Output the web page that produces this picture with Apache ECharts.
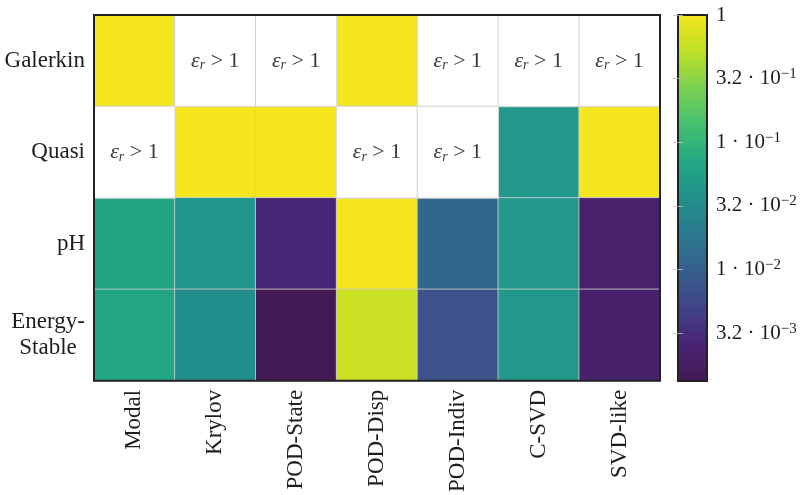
<!DOCTYPE html>
<html>
<head>
<meta charset="utf-8">
<script src="https://cdn.jsdelivr.net/npm/echarts@6/dist/echarts.min.js"></script>
<style>
  html, body { margin: 0; padding: 0; background: #fff; }
  #chart { width: 801px; height: 495px; }
</style>
</head>
<body>
<div id="chart"></div>
<script>
// Reduction methods (columns) and model formulations (rows)
const methods = ['Modal', 'Krylov', 'POD-State', 'POD-Disp', 'POD-Indiv', 'C-SVD', 'SVD-like'];
const formulations = ['Galerkin', 'Quasi', 'pH', 'Energy-Stable'];

// Relative error per formulation; null marks a failed reduction (eps_r > 1)
const galerkinErr = [1, null, null, 1, null, null, null];
const quasiErr = [null, 1, 1, null, null, 0.044, 1];
const phErr = [0.065, 0.042, 0.0026, 1, 0.012, 0.044, 0.0022];
const energyStableErr = [0.066, 0.034, 0.00133, 0.61, 0.007, 0.044, 0.0021];

// Colour bar ticks, as powers of ten
const colorbarTickExps = [0, -0.5, -1, -1.5, -2, -2.5];

const rows = [galerkinErr, quasiErr, phErr, energyStableErr];

const okCells = [];
const failedCells = [];
rows.forEach((row, yi) => {
  row.forEach((v, xi) => {
    if (v === null) failedCells.push([xi, yi, 0]);
    else okCells.push([xi, yi, Math.log10(v)]);
  });
});
const logMin = Math.min(...okCells.map(d => d[2]));
const logMax = Math.max(...okCells.map(d => d[2]));

const viridis = ['#441a55', '#482475', '#414487', '#355f8d', '#2a788e', '#21918c',
                 '#22a884', '#44bf70', '#7ad151', '#bddf26', '#f4e51c'];

const serif = '"Liberation Serif", "DejaVu Serif", serif';
const ink = '#1e1e1e';

function tickLabel(v) {
  if (Math.abs(v) < 1e-9) return '{m|1}';
  const e = Math.floor(v + 1e-9);
  const mant = Math.pow(10, v - e);
  const mStr = Math.abs(mant - 1) < 1e-6 ? '1' : mant.toFixed(1);
  return '{m|' + mStr + ' · 10}{s|\u2212' + Math.abs(e) + '}';
}

const chart = echarts.init(document.getElementById('chart'), null, { renderer: 'canvas' });

chart.setOption({
  animation: false,
  backgroundColor: '#fff',
  grid: [
    { left: 94, top: 15, width: 566, height: 366, show: true, z: 10,
      borderColor: '#222', borderWidth: 2, backgroundColor: 'transparent' },
    { left: 678, top: 15, width: 29, height: 366, show: true, z: 10,
      borderColor: '#222', borderWidth: 2, backgroundColor: 'transparent' }
  ],
  xAxis: [
    {
      type: 'category', gridIndex: 0, data: methods,
      axisLine: { show: false }, axisTick: { show: false }, splitLine: { show: false },
      axisLabel: { interval: 0, rotate: 90, margin: 9, color: ink, fontFamily: serif, fontSize: 23 }
    },
    { type: 'value', gridIndex: 1, show: false, min: 0, max: 1 }
  ],
  yAxis: [
    {
      type: 'category', gridIndex: 0, data: formulations, inverse: true,
      axisLine: { show: false }, axisTick: { show: false }, splitLine: { show: false },
      axisLabel: {
        margin: 9, color: ink, fontFamily: serif, fontSize: 23,
        formatter: function (v) {
          const i = v.indexOf('-');
          if (i > 0) return '{c|' + v.slice(0, i + 1) + '}\n{c|' + v.slice(i + 1) + '}';
          return v;
        },
        rich: { c: { width: 74, align: 'center', fontFamily: serif, fontSize: 23, color: ink, lineHeight: 26 } }
      }
    },
    {
      type: 'value', gridIndex: 1, min: logMin, max: 0, position: 'right', z: 12,
      axisLine: { show: false }, splitLine: { show: false },
      axisTick: { show: true, inside: true, length: 5, customValues: colorbarTickExps,
                  lineStyle: { color: 'rgba(190,190,190,0.8)', width: 1 } },
      axisLabel: {
        customValues: colorbarTickExps, margin: 9, color: ink,
        formatter: tickLabel,
        rich: {
          m: { fontFamily: serif, fontSize: 21, color: ink, lineHeight: 24 },
          s: { fontFamily: serif, fontSize: 15, color: ink, lineHeight: 14, verticalAlign: 'top' }
        }
      }
    },
    {
      type: 'value', gridIndex: 1, min: logMin, max: 0, position: 'left', z: 12,
      axisLine: { show: false }, splitLine: { show: false }, axisLabel: { show: false },
      axisTick: { show: true, inside: true, length: 5, customValues: colorbarTickExps,
                  lineStyle: { color: 'rgba(190,190,190,0.8)', width: 1 } }
    }
  ],
  visualMap: {
    type: 'continuous', seriesIndex: 0, min: logMin, max: logMax,
    calculable: false, orient: 'vertical', left: 678, top: 15, padding: 0, z: 4,
    itemWidth: 29, itemHeight: 366, text: null, showLabel: false,
    inRange: { color: viridis }
  },
  series: [
    {
      type: 'heatmap', xAxisIndex: 0, yAxisIndex: 0, data: okCells,
      itemStyle: { borderColor: 'rgba(205,205,205,0.85)', borderWidth: 1 },
      emphasis: { disabled: true }
    },
    {
      type: 'heatmap', xAxisIndex: 0, yAxisIndex: 0, data: failedCells,
      itemStyle: { color: '#fff', borderColor: '#d2d2d2', borderWidth: 1 },
      emphasis: { disabled: true },
      label: {
        show: true,
        formatter: '{e|ε}{r|r}{g| > 1}',
        rich: {
          e: { fontFamily: serif, fontStyle: 'italic', fontSize: 22, color: '#3a3a3a', lineHeight: 24 },
          r: { fontFamily: serif, fontStyle: 'italic', fontSize: 14, color: '#3a3a3a', lineHeight: 14, verticalAlign: 'bottom' },
          g: { fontFamily: serif, fontSize: 22, color: '#3a3a3a', lineHeight: 24 }
        }
      }
    }
  ]
});
</script>
</body>
</html>
